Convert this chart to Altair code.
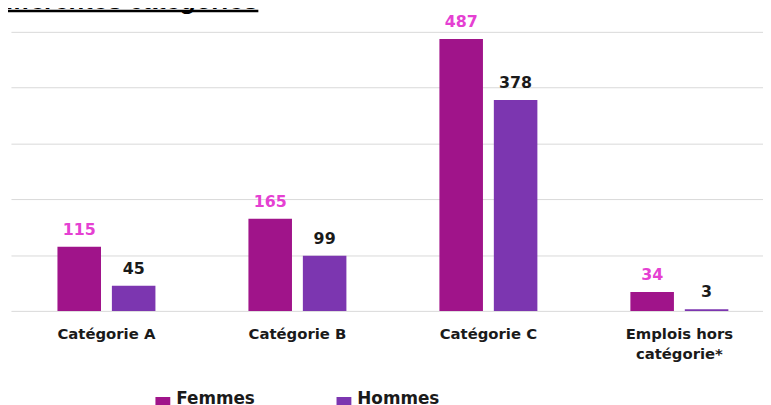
import altair as alt
import pandas as pd

CATEGORIES = ["Catégorie A", "Catégorie B", "Catégorie C", "Emplois hors\ncatégorie*"]
SERIES = ["Femmes", "Hommes"]
FEMMES = [115, 165, 487, 34]
HOMMES = [45, 99, 378, 3]
Y_TICKS = [0, 100, 200, 300, 400, 500]
TITLE = ["différentes catégories"]

BAR_COLORS = ["#A0148A", "#7C36B0"]
LABEL_PINK = "#E540D2"
DARK = "#1A1A1A"
FONT = "DejaVu Sans"

rows = []
for c, f, h in zip(CATEGORIES, FEMMES, HOMMES):
    rows.append({"categorie": c, "sexe": "Femmes", "valeur": f})
    rows.append({"categorie": c, "sexe": "Hommes", "valeur": h})
df = pd.DataFrame(rows)

x_enc = alt.X(
    "categorie:N",
    sort=CATEGORIES,
    title=None,
    scale=alt.Scale(paddingInner=0.487, paddingOuter=0.2124, align=0.573, round=False),
    axis=alt.Axis(
        labelAngle=0,
        ticks=False,
        domain=False,
        grid=False,
        labelPadding=16,
        labelFont=FONT,
        labelFontSize=15,
        labelFontWeight="bold",
        labelColor=DARK,
        labelLineHeight=20,
        labelLimit=0,
        labelExpr="split(datum.label, '\\n')",
    ),
)
xoff_enc = alt.XOffset("sexe:N", sort=SERIES, scale=alt.Scale(paddingInner=0.2, paddingOuter=0))
y_enc = alt.Y(
    "valeur:Q",
    scale=alt.Scale(domain=[0, 500], nice=False, zero=True),
    axis=alt.Axis(
        values=Y_TICKS,
        labels=False,
        ticks=False,
        domain=False,
        grid=True,
        gridColor="#D9D9D9",
        gridWidth=1,
        title=None,
    ),
)

base = alt.Chart(df)

bars = base.mark_bar().encode(
    x=x_enc,
    xOffset=xoff_enc,
    y=y_enc,
    color=alt.Color(
        "sexe:N",
        scale=alt.Scale(domain=SERIES, range=BAR_COLORS),
        legend=alt.Legend(
            title=None,
            orient="none",
            legendX=145,
            legendY=368,
            direction="horizontal",
            symbolType="square",
            symbolSize=225,
            symbolStrokeWidth=0,
            labelFont=FONT,
            labelFontSize=17,
            labelFontWeight="bold",
            labelColor=DARK,
            labelBaseline="alphabetic",
            labelOffset=5,
            columnPadding=81,
            padding=0,
            labelLimit=0,
        ),
    ),
)

labels = base.mark_text(
    dy=-12, baseline="alphabetic", font=FONT, fontSize=16, fontWeight="bold"
).encode(
    x=x_enc,
    xOffset=xoff_enc,
    y=y_enc,
    text=alt.Text("valeur:Q"),
    color=alt.condition(alt.datum.sexe == "Femmes", alt.value(LABEL_PINK), alt.value(DARK)),
)

title_df = pd.DataFrame({"t": TITLE})
title_text = alt.Chart(title_df).mark_text(
    align="right",
    baseline="alphabetic",
    font="Liberation Sans",
    fontSize=26,
    fontWeight="bold",
    fontStyle="italic",
    color="#000000",
).encode(text="t:N", x=alt.value(250), y=alt.value(-23))

title_line = alt.Chart(title_df).mark_rule(color="#000000", strokeWidth=2.5).encode(
    x=alt.value(-11), x2=alt.value(250), y=alt.value(-21)
)

chart = (
    alt.layer(bars, labels, title_text, title_line)
    .properties(
        width=760,
        height=282,
        padding={"left": 3, "top": 22, "right": 0, "bottom": 93},
        autosize=alt.AutoSizeParams(type="none"),
    )
    .configure_view(stroke=None)
)

chart.save("out.html", embed_options={"renderer": "svg", "actions": False})
